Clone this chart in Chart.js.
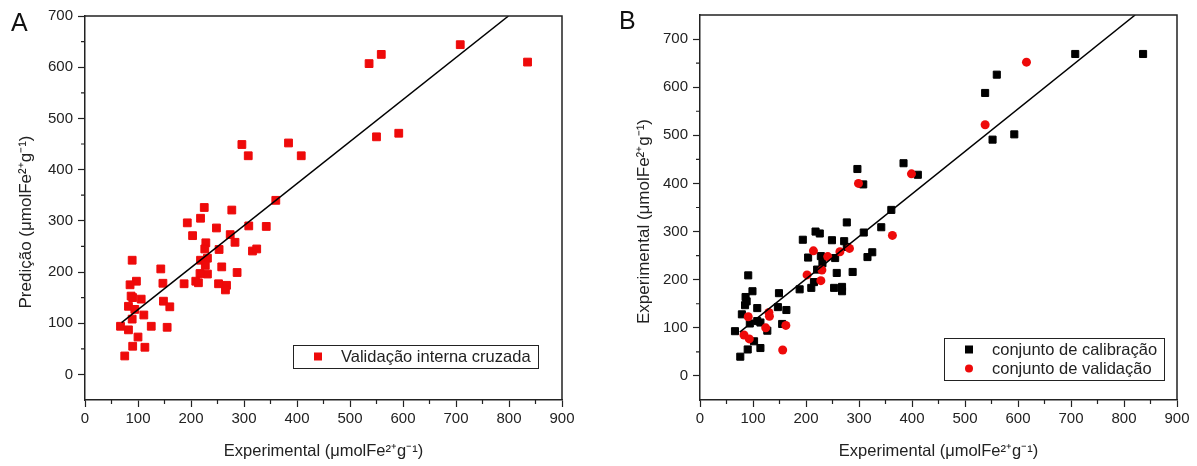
<!DOCTYPE html>
<html>
<head>
<meta charset="utf-8">
<script src="https://cdn.jsdelivr.net/npm/chart.js@4.4.1/dist/chart.umd.min.js"></script>
<style>
  html, body { margin: 0; padding: 0; background: #fff; }
  #wrap { position: relative; width: 1197px; height: 466px; font-family: "Liberation Sans", Arial, sans-serif; }
  .panel { position: absolute; top: 0; }
  #pa { left: 0; }
  #pb { left: 598px; }
  .tag { position: absolute; font-size: 25px; line-height: 25px; color: #111; }
</style>
</head>
<body>
<div id="wrap">
  <canvas id="pa" class="panel" width="598" height="466"></canvas>
  <canvas id="pb" class="panel" width="599" height="466"></canvas>
  <div class="tag" style="left:11px;top:10px;">A</div>
  <div class="tag" style="left:619px;top:8px;">B</div>
</div>
<script>
/* Predição vs experimental (A) e experimental vs predito por conjunto (B) */

const FONT = '"Liberation Sans", Arial, sans-serif';
const INK = '#222';
const RED = '#ee0a0a';

/* ── ticks ───────────────────────────────────────────────────── */
const X_TICKS   = [0, 100, 200, 300, 400, 500, 600, 700, 800, 900];
const X_MINOR   = [50, 150, 250, 350, 450, 550, 650, 750, 850];
const Y_TICKS   = [0, 100, 200, 300, 400, 500, 600, 700];
const Y_MINOR   = [50, 150, 250, 350, 450, 550, 650];

const X_TITLE = 'Experimental (μmolFe²⁺g⁻¹)';
const Y_TITLE_A = 'Predição (μmolFe²⁺g⁻¹)';
const Y_TITLE_B = 'Experimental (μmolFe²⁺g⁻¹)';

/* ── painel A: validação interna cruzada ─────────────────────── */
const cvExp = [308, 408, 360, 225, 277, 218, 193, 248, 309, 342, 203, 274, 283, 228, 226, 253, 316, 324,
  89, 218, 231, 227, 258, 143, 287, 217, 231, 97, 85, 147, 187, 209, 214, 252, 267, 265, 87, 90, 106, 148,
  160, 82, 94, 111, 89, 67, 82, 125, 155, 100, 90, 113, 75, 296, 384, 536, 559, 708, 835, 550, 592];
const cvPred = [427, 427, 340, 326, 321, 305, 296, 286, 290, 289, 271, 273, 258, 257, 245, 244, 241, 245,
  223, 223, 227, 213, 210, 206, 199, 197, 196, 182, 175, 178, 177, 182, 179, 177, 174, 165, 153, 150, 147, 143,
  132, 133, 127, 116, 108, 94, 87, 94, 92, 73, 55, 53, 36, 449, 452, 607, 625, 644, 610, 464, 471];
const fitAx = [69, 799];
const fitAy = [101, 700];

/* ── painel B: calibração e validação ────────────────────────── */
const calX = [297, 384, 411, 308, 361, 277, 342, 309, 218, 226, 194, 249, 272, 277, 325, 316, 204, 228,
  255, 231, 221, 258, 288, 215, 210, 188, 253, 268, 268, 91, 99, 86, 85, 108, 149, 147, 163, 79, 66, 94,
  114, 127, 155, 102, 90, 114, 76, 88, 108, 708, 836, 560, 538, 593, 552];
const calY = [430, 442, 418, 398, 345, 319, 309, 298, 300, 296, 283, 282, 280, 268, 257, 247, 246, 249,
  245, 234, 221, 214, 216, 195, 183, 180, 183, 185, 176, 209, 176, 164, 147, 141, 172, 143, 137, 128, 93, 109,
  111, 94, 108, 72, 55, 58, 40, 155, 114, 669, 669, 626, 588, 502, 491];
const valX = [299, 399, 363, 538, 616, 214, 241, 264, 282, 202, 230, 228, 91, 130, 131, 124, 162, 83, 93, 156];
const valY = [400, 420, 292, 522, 652, 260, 248, 258, 265, 210, 220, 198, 123, 132, 124, 100, 105, 85, 77, 54];
const fitBx = [75, 821];
const fitBy = [91, 750];

function pts(xs, ys) {
  return xs.map((x, i) => ({ x, y: ys[i] }));
}

/* ── plugins ─────────────────────────────────────────────────── */

// top/right frame lines, minor ticks and the rotated y title
const frameBox = {
  id: 'frameBox',
  afterDraw(chart, args, opts) {
    const { ctx, chartArea: a } = chart;
    const xs = chart.scales.x, ys = chart.scales.y;
    ctx.save();
    ctx.strokeStyle = INK;
    ctx.lineWidth = 1.5;
    ctx.beginPath();
    ctx.moveTo(a.left, a.top);
    ctx.lineTo(a.right, a.top);
    ctx.lineTo(a.right, a.bottom);
    ctx.stroke();
    ctx.lineWidth = 1.2;
    ctx.beginPath();
    X_MINOR.forEach(v => {
      const px = xs.getPixelForValue(v);
      ctx.moveTo(px, a.bottom); ctx.lineTo(px, a.bottom + 4);
    });
    Y_MINOR.forEach(v => {
      const py = ys.getPixelForValue(v);
      ctx.moveTo(a.left, py); ctx.lineTo(a.left - 4, py);
    });
    ctx.stroke();

    // y title, centred a bit below the plot middle
    ctx.translate(opts.titleX, (a.top + a.bottom) / 2 + opts.titleDy);
    ctx.rotate(-Math.PI / 2);
    ctx.font = '17px ' + FONT;
    ctx.fillStyle = INK;
    ctx.textAlign = 'center';
    ctx.textBaseline = 'middle';
    ctx.fillText(opts.title, 0, 0);
    ctx.restore();
  }
};

// boxed legend sitting inside the lower right of the plot
const insetLegend = {
  id: 'insetLegend',
  afterDraw(chart, args, opts) {
    const { ctx, chartArea: a } = chart;
    const items = chart.data.datasets.filter(d => d.inLegend);
    ctx.save();
    ctx.font = '16.5px ' + FONT;
    const tw = Math.max(...items.map(d => ctx.measureText(d.label).width));
    const rowH = 19;
    const w = Math.round(48 + tw + 7), h = items.length * rowH + 4;
    const x0 = Math.round(a.right - opts.right - w), y0 = Math.round(a.bottom - opts.bottom - h);
    ctx.fillStyle = '#fff';
    ctx.fillRect(x0, y0, w, h);
    ctx.strokeStyle = INK;
    ctx.lineWidth = 1;
    ctx.strokeRect(x0 + 0.5, y0 + 0.5, w, h);
    items.forEach((d, i) => {
      const cy = y0 + 2 + rowH * (i + 0.5);
      const cx = x0 + 25;
      ctx.fillStyle = d.backgroundColor;
      if (d.pointStyle === 'circle') {
        ctx.beginPath();
        ctx.arc(cx, cy, 4, 0, Math.PI * 2);
        ctx.fill();
      } else {
        ctx.fillRect(cx - 4, cy - 4, 8, 8);
      }
      ctx.fillStyle = INK;
      ctx.textBaseline = 'middle';
      ctx.textAlign = 'left';
      ctx.fillText(d.label, x0 + 48, cy + 1);
    });
    ctx.restore();
  }
};

/* ── option builder ──────────────────────────────────────────── */

function axisOptions(o) {
  return {
    responsive: false,
    animation: false,
    events: [],
    layout: { padding: o.padding },
    plugins: {
      legend: { display: false },
      tooltip: { enabled: false },
      insetLegend: o.legend,
      frameBox: { title: o.yTitle, titleX: o.yTitleX, titleDy: 14 },
    },
    scales: {
      x: {
        type: 'linear',
        min: 0, max: 900,
        afterBuildTicks: s => { s.ticks = X_TICKS.map(v => ({ value: v })); },
        afterFit: s => { s.height = 66; },
        border: { display: true, color: INK, width: 1.5 },
        grid: { drawOnChartArea: false, drawTicks: true, tickLength: 7, tickWidth: 1.2, tickColor: INK },
        ticks: { color: INK, font: { family: FONT, size: 15 }, padding: 3, maxRotation: 0 },
        title: { display: true, text: X_TITLE, color: INK, font: { family: FONT, size: 16.5 }, padding: { top: 0, bottom: 5 } },
      },
      y: {
        type: 'linear',
        min: o.yMin, max: o.yMax,
        afterBuildTicks: s => { s.ticks = Y_TICKS.map(v => ({ value: v })); },
        afterFit: s => { s.width = o.yWidth; },
        border: { display: true, color: INK, width: 1.5 },
        grid: { drawOnChartArea: false, drawTicks: true, tickLength: 7, tickWidth: 1.2, tickColor: INK },
        ticks: { color: INK, font: { family: FONT, size: 15 }, padding: 5 },
      },
    },
  };
}

function fitLine(xs, ys) {
  return {
    type: 'line',
    data: pts(xs, ys),
    borderColor: '#000',
    borderWidth: 1.5,
    pointRadius: 0,
    fill: false,
    order: 0,
  };
}

/* ── charts ──────────────────────────────────────────────────── */

new Chart(document.getElementById('pa'), {
  type: 'scatter',
  data: {
    datasets: [
      {
        label: 'Validação interna cruzada',
        inLegend: true,
        data: pts(cvExp, cvPred),
        pointStyle: 'rect',
        pointRadius: 5.5,
        backgroundColor: RED,
        borderColor: RED,
        borderWidth: 1,
        order: 1,
      },
      fitLine(fitAx, fitAy),
    ],
  },
  options: axisOptions({
    padding: { top: 16, right: 36, left: 0, bottom: 0 },
    yMin: -50, yMax: 700, yWidth: 85, yTitle: Y_TITLE_A, yTitleX: 26,
    legend: { right: 24, bottom: 32 },
  }),
  plugins: [frameBox, insetLegend],
});

new Chart(document.getElementById('pb'), {
  type: 'scatter',
  data: {
    datasets: [
      {
        label: 'conjunto de calibração',
        inLegend: true,
        data: pts(calX, calY),
        pointStyle: 'rect',
        pointRadius: 5,
        backgroundColor: '#000',
        borderColor: '#000',
        borderWidth: 1,
        order: 2,
      },
      {
        label: 'conjunto de validação',
        inLegend: true,
        data: pts(valX, valY),
        pointStyle: 'circle',
        pointRadius: 4.5,
        backgroundColor: RED,
        borderColor: RED,
        borderWidth: 0,
        order: 1,
      },
      fitLine(fitBx, fitBy),
    ],
  },
  options: axisOptions({
    padding: { top: 15, right: 20, left: 0, bottom: 0 },
    yMin: -50, yMax: 750, yWidth: 102, yTitle: Y_TITLE_B, yTitleX: 46,
    legend: { right: 13, bottom: 20 },
  }),
  plugins: [frameBox, insetLegend],
});
</script>
</body>
</html>
